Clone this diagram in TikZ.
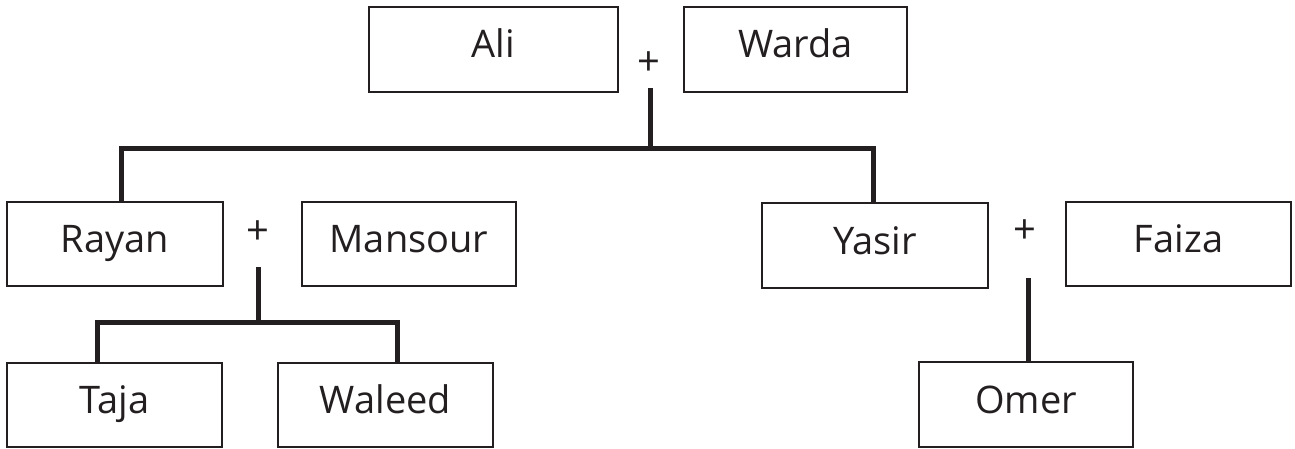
\documentclass[tikz,border=0pt]{standalone}
\usepackage{fontspec}
\setmainfont{Open Sans}
\definecolor{ink}{HTML}{231F20}
\begin{document}
\begin{tikzpicture}[x=1pt,y=-1pt,
  person/.style={draw=ink,line width=2.5pt,fill=white,inner sep=0pt,
    font=\fontsize{38}{40}\selectfont,text=ink,
    minimum height=84pt,text height=50pt,text depth=34pt},
  plus/.style={font=\fontsize{40}{42}\selectfont,text=ink,inner sep=0pt},
  conn/.style={draw=ink,line width=5pt,line join=miter,line cap=butt}]
\useasboundingbox (0,0) rectangle (1295,449);
% generation 1
\node[person,minimum width=249pt,minimum height=85pt,text height=51pt] (ali) at (493.5,49.5) {Ali};
\node[person,minimum width=223pt,minimum height=85pt,text height=51pt] (warda) at (795.5,49.5) {Warda};
\node[plus] (pa) at (649,64) {+};
% generation 2
\node[person,minimum width=216pt] (rayan) at (115,244) {Rayan};
\node[person,minimum width=214pt] (mansour) at (409,244) {Mansour};
\node[plus] (pr) at (258,233) {+};
\node[person,minimum width=226pt,minimum height=85pt,text height=51pt] (yasir) at (875,245.5) {Yasir};
\node[person,minimum width=225pt] (faiza) at (1178.5,244) {Faiza};
\node[plus] (py) at (1025,232) {+};
% generation 3
\node[person,minimum width=215pt] (taja) at (114.5,405) {Taja};
\node[person,minimum width=215pt] (waleed) at (385.5,405) {Waleed};
\node[person,minimum width=214pt,minimum height=85pt,text height=51pt] (omer) at (1026,404.5) {Omer};
% connectors
\coordinate (sa) at (650,88);
\coordinate (ja) at (650,149);
\coordinate (sr) at (258,267);
\coordinate (jr) at (258,322);
\coordinate (sy) at (1028,278);
\draw[conn] (sa) -- (ja);
\draw[conn] ([xshift=6pt]rayan.north) |- (ja) -| ([xshift=-2pt]yasir.north);
\draw[conn] (sr) -- (jr);
\draw[conn] ([xshift=-17.5pt]taja.north) |- (jr) -| ([xshift=11.5pt]waleed.north);
\draw[conn] (sy) -- (sy |- omer.north);
\end{tikzpicture}
\end{document}
